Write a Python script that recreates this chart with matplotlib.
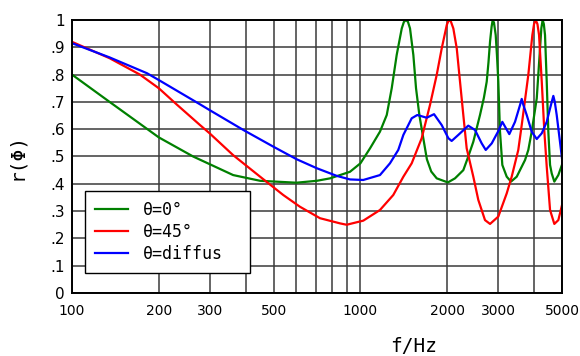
import numpy as np
import matplotlib
matplotlib.use("Agg")
import matplotlib.pyplot as plt

# frequencies (Hz) and reflection values
f_0 = [100, 135, 200, 263, 300, 362, 449, 600, 706, 785, 850, 920, 1000, 1080,
       1169, 1234, 1284, 1336, 1391, 1415, 1439, 1462, 1486, 1526, 1559, 1601,
       1652, 1700, 1760, 1839, 2010, 2128, 2274, 2366, 2463, 2598, 2680, 2741,
       2780, 2815, 2850, 2875, 2905, 2945, 2975, 3007, 3048, 3105, 3216, 3328,
       3483, 3722, 3821, 3926, 4087, 4196, 4240, 4285, 4325, 4366, 4426, 4483,
       4545, 4606, 4703, 4856, 5000]
r_0 = [0.80, 0.70, 0.57, 0.50, 0.472, 0.432, 0.411, 0.404, 0.411, 0.42, 0.432,
       0.444, 0.475, 0.53, 0.591, 0.652, 0.75, 0.872, 0.969, 0.993, 1.0, 0.993,
       0.969, 0.872, 0.75, 0.652, 0.567, 0.49, 0.445, 0.42, 0.405, 0.42, 0.45,
       0.50, 0.554, 0.652, 0.715, 0.774, 0.845, 0.921, 0.975, 1.0, 0.99,
       0.945, 0.87, 0.774, 0.591, 0.469, 0.426, 0.408, 0.426, 0.487, 0.524,
       0.591, 0.713, 0.896, 0.97, 1.0, 0.985, 0.945, 0.774, 0.591, 0.469,
       0.438, 0.408, 0.432, 0.47]

f_45 = [100, 135, 172, 200, 231, 278, 300, 362, 449, 540, 617, 724, 850, 896,
        1023, 1169, 1300, 1409, 1506, 1631, 1743, 1839, 1914, 1993, 2025, 2060,
        2100, 2158, 2215, 2274, 2336, 2463, 2563, 2704, 2815, 3007, 3216, 3346,
        3527, 3625, 3821, 3946, 4000, 4054, 4110, 4163, 4254, 4343, 4426, 4545,
        4703, 4856, 5000]
r_45 = [0.92, 0.86, 0.80, 0.75, 0.69, 0.615, 0.585, 0.505, 0.426, 0.359, 0.316,
        0.274, 0.255, 0.25, 0.265, 0.304, 0.359, 0.426, 0.475, 0.567, 0.689,
        0.799, 0.896, 0.982, 1.0, 0.994, 0.969, 0.896, 0.774, 0.652, 0.53,
        0.426, 0.341, 0.267, 0.253, 0.28, 0.365, 0.426, 0.524, 0.615, 0.799,
        0.945, 0.985, 1.0, 0.985, 0.945, 0.774, 0.591, 0.463, 0.304, 0.253,
        0.267, 0.322]

f_d = [100, 135, 182, 200, 278, 300, 393, 499, 601, 706, 828, 920, 1023, 1169,
       1266, 1353, 1409, 1506, 1575, 1698, 1800, 1914, 2018, 2072, 2185, 2366,
       2497, 2634, 2720, 2853, 3007, 3105, 3198, 3283, 3436, 3580, 3625, 3670,
       3772, 3926, 4087, 4254, 4426, 4545, 4620, 4666, 4720, 4793, 4920, 5000]
r_d = [0.915, 0.863, 0.805, 0.78, 0.691, 0.67, 0.597, 0.536, 0.49, 0.457, 0.429,
       0.416, 0.414, 0.432, 0.475, 0.524, 0.579, 0.64, 0.652, 0.642, 0.655,
       0.615, 0.567, 0.557, 0.579, 0.613, 0.597, 0.548, 0.524, 0.548, 0.593,
       0.627, 0.603, 0.582, 0.627, 0.69, 0.711, 0.69, 0.652, 0.591, 0.564,
       0.585, 0.627, 0.676, 0.705, 0.722, 0.70, 0.652, 0.554, 0.493]

xticks = [100, 200, 300, 500, 1000, 2000, 3000, 5000]
xminor = [400, 600, 700, 800, 900, 4000]
yticks = np.round(np.arange(0, 1.01, 0.1), 1)
ylabels = ["0", ".1", ".2", ".3", ".4", ".5", ".6", ".7", ".8", ".9", "1"]
labels = ["θ=0°", "θ=45°", "θ=diffus"]

mono = ["DejaVu Sans Mono", "DejaVu Sans"]

fig = plt.figure(figsize=(5.8, 3.56), dpi=100)
ax = fig.add_axes([72 / 580, 1 - 293 / 356, 490 / 580, 273 / 356])

ax.plot(f_0, r_0, color="#008000", lw=1.6, label=labels[0])
ax.plot(f_45, r_45, color="#ff0000", lw=1.6, label=labels[1])
ax.plot(f_d, r_d, color="#0000ff", lw=1.6, label=labels[2])

ax.set_xscale("log")
ax.set_xlim(100, 5000)
ax.set_ylim(0, 1)
ax.set_xticks(xticks)
ax.set_xticks(xminor, minor=True)
ax.set_xticklabels([str(t) for t in xticks], fontsize=10)
ax.xaxis.set_minor_formatter(matplotlib.ticker.NullFormatter())
ax.set_yticks(yticks)
ax.set_yticklabels(ylabels, fontsize=11)
ax.tick_params(which="both", length=0)
ax.tick_params(axis="x", pad=8)
ax.tick_params(axis="y", pad=5)
ax.grid(True, which="both", color="#3a3a3a", lw=1.1)
ax.set_axisbelow(True)
for s in ax.spines.values():
    s.set_linewidth(1.4)
    s.set_color("black")

leg = ax.legend(loc="upper left", bbox_to_anchor=(0.0265, 0.0586, 0.337, 0.316),
                mode="expand", borderaxespad=0, fancybox=False,
                prop={"family": mono, "size": 12}, handlelength=2.0,
                handletextpad=0.9, labelspacing=0.25, borderpad=0.6,
                framealpha=1)
leg.get_frame().set_edgecolor("black")
leg.get_frame().set_linewidth(1.0)

fig.text(17 / 580, 1 - 156 / 356, "r(Φ)", rotation=90, ha="center", va="center",
         family=mono, fontsize=14)
fig.text(414 / 580, 1 - 346 / 356, "f/Hz", ha="center", va="center",
         family=mono, fontsize=14)

fig.savefig("out.png", dpi=100)
